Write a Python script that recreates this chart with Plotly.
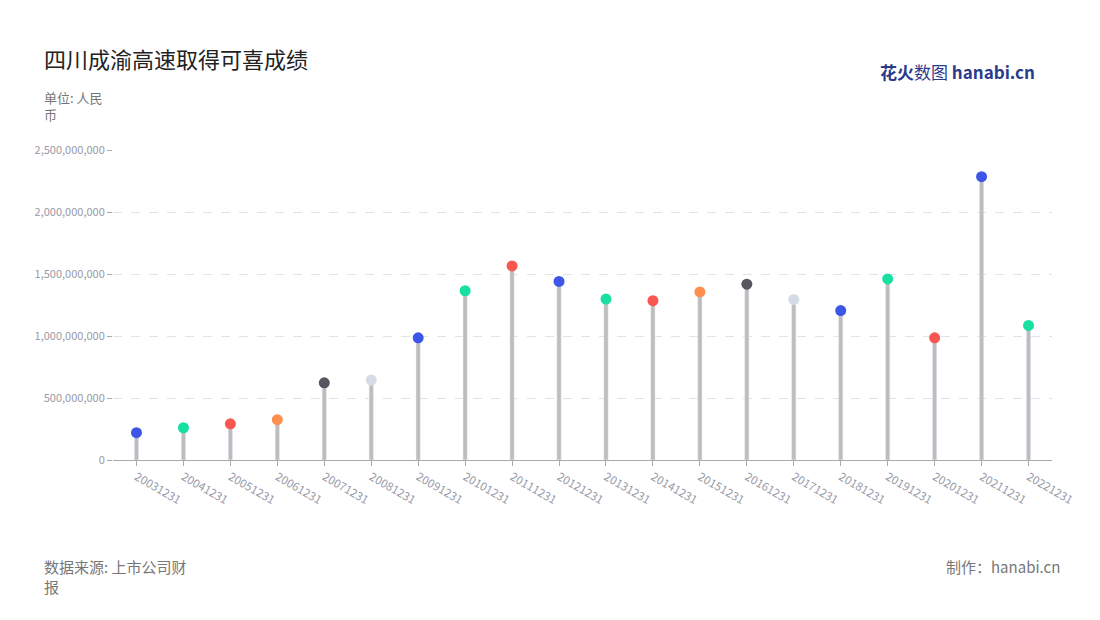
import plotly.graph_objects as go

years = ['20031231', '20041231', '20051231', '20061231', '20071231', '20081231', '20091231',
         '20101231', '20111231', '20121231', '20131231', '20141231', '20151231', '20161231',
         '20171231', '20181231', '20191231', '20201231', '20211231', '20221231']
values = [220e6, 260e6, 292e6, 325e6, 622e6, 645e6, 985e6, 1365e6, 1565e6, 1440e6,
          1298e6, 1285e6, 1355e6, 1418e6, 1295e6, 1205e6, 1460e6, 985e6, 2285e6, 1085e6]
colors = ['#3d56e8', '#17e0a0', '#f8564e', '#ff8f4f', '#55565f', '#d6dce6', '#3d56e8',
          '#17e0a0', '#f8564e', '#3d56e8', '#17e0a0', '#f8564e', '#ff8f4f', '#55565f',
          '#d6dce6', '#3d56e8', '#17e0a0', '#f8564e', '#3d56e8', '#17e0a0']

# page has an 8px body margin, so figure pixels = screen pixels - 8
OFF = 8
W, H = 1100, 620
L, R, T, B = 113 - OFF, 56, 150 - OFF, 168


def px(x):
    return (x - OFF - L) / (W - L - R)


def py(y):
    return 1 - (y - OFF - T) / (H - T - B)


fig = go.Figure()
fig.add_trace(go.Bar(x=years, y=values, width=0.09, marker_color='#bdbdbd', hoverinfo='skip'))
fig.add_trace(go.Scatter(x=years, y=values, mode='markers',
                         marker=dict(size=11, color=colors)))

fig.update_layout(
    width=W, height=H, showlegend=False,
    paper_bgcolor='white', plot_bgcolor='white',
    font=dict(family='Noto Sans CJK SC', color='#999aa8', size=12),
    margin=dict(l=L, r=R, t=T, b=B),
)
fig.update_xaxes(type='category', range=[-0.5, len(years) - 0.5], tickangle=30,
                 showline=True, linecolor='#aaa', ticks='outside', ticklen=5,
                 tickcolor='#aaa', tickfont=dict(size=11.5))
fig.update_yaxes(range=[0, 2.5e9], dtick=5e8, tickformat=',', showgrid=True,
                 gridcolor='#e3e3e3', griddash='dash', zeroline=False,
                 ticks='outside', ticklen=5, tickcolor='#aaa', tickfont=dict(size=11))

notes = [
    ('四川成渝高速取得可喜成绩', 42, 40, 'left', 22, '#222'),
    ('单位: 人民<br>币', 42, 86, 'left', 13, '#777'),
    ('数据来源: 上市公司财<br>报', 42, 554, 'left', 15, '#777'),
    ('制作：hanabi.cn', 1062, 554, 'right', 15, '#777'),
]
for text, x, y, anchor, size, col in notes:
    fig.add_annotation(text=text, x=px(x), y=py(y), xref='paper', yref='paper',
                       showarrow=False, align='left', xanchor=anchor, yanchor='top',
                       font=dict(size=size, color=col))
fig.add_annotation(text='<b>花火</b>数图 <b>hanabi.cn</b>', x=px(1037), y=py(57),
                   xref='paper', yref='paper', showarrow=False,
                   xanchor='right', yanchor='top', font=dict(size=17, color='#2a3a8c'))

fig.write_html('out.html')
